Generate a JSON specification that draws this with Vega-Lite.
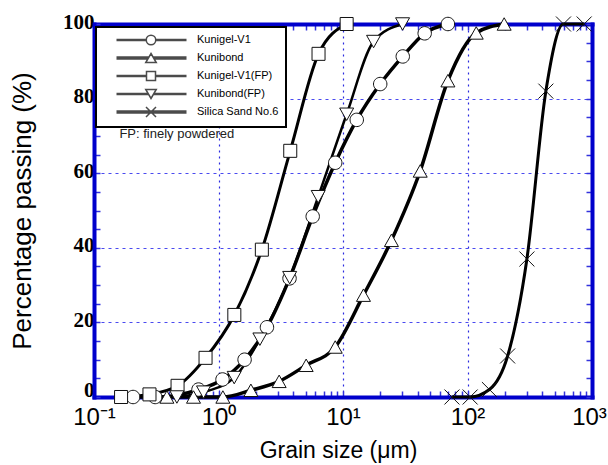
{
  "$schema": "https://vega.github.io/schema/vega-lite/v6.json",
  "width": 498,
  "height": 373,
  "autosize": {"type": "none"},
  "padding": {"left": 94, "top": 24, "right": 16, "bottom": 68},
  "background": "white",
  "config": {"view": {"stroke": null}, "font": "Liberation Sans", "legend": {"strokeWidth": 2}},
  "datasets": {
    "gsd": [
      {"series": "Kunigel-V1", "grain": 0.206, "passing": 0},
      {"series": "Kunigel-V1", "grain": 0.31, "passing": 0},
      {"series": "Kunigel-V1", "grain": 0.691, "passing": 2},
      {"series": "Kunigel-V1", "grain": 1.077, "passing": 4.7},
      {"series": "Kunigel-V1", "grain": 1.62, "passing": 10},
      {"series": "Kunigel-V1", "grain": 2.45, "passing": 18.7},
      {"series": "Kunigel-V1", "grain": 3.72, "passing": 31.8},
      {"series": "Kunigel-V1", "grain": 5.71, "passing": 48.4},
      {"series": "Kunigel-V1", "grain": 8.66, "passing": 62.8},
      {"series": "Kunigel-V1", "grain": 12.9, "passing": 74.3},
      {"series": "Kunigel-V1", "grain": 19.9, "passing": 83.9},
      {"series": "Kunigel-V1", "grain": 30.2, "passing": 91.3},
      {"series": "Kunigel-V1", "grain": 45.3, "passing": 97.5},
      {"series": "Kunigel-V1", "grain": 69.6, "passing": 100},
      {"series": "Kunibond", "grain": 0.385, "passing": 0},
      {"series": "Kunibond", "grain": 0.63, "passing": 0},
      {"series": "Kunibond", "grain": 1.084, "passing": 0},
      {"series": "Kunibond", "grain": 1.82, "passing": 1.8},
      {"series": "Kunibond", "grain": 3.07, "passing": 4.2},
      {"series": "Kunibond", "grain": 5.06, "passing": 8.5},
      {"series": "Kunibond", "grain": 8.66, "passing": 13.4},
      {"series": "Kunibond", "grain": 14.6, "passing": 27.3},
      {"series": "Kunibond", "grain": 24.5, "passing": 42},
      {"series": "Kunibond", "grain": 41.7, "passing": 60.6},
      {"series": "Kunibond", "grain": 69.6, "passing": 84.8},
      {"series": "Kunibond", "grain": 117.5, "passing": 97.6},
      {"series": "Kunibond", "grain": 197, "passing": 100},
      {"series": "Kunigel-V1(FP)", "grain": 0.165, "passing": 0},
      {"series": "Kunigel-V1(FP)", "grain": 0.279, "passing": 0.7},
      {"series": "Kunigel-V1(FP)", "grain": 0.469, "passing": 3},
      {"series": "Kunigel-V1(FP)", "grain": 0.787, "passing": 10.5},
      {"series": "Kunigel-V1(FP)", "grain": 1.34, "passing": 22},
      {"series": "Kunigel-V1(FP)", "grain": 2.23, "passing": 39.5},
      {"series": "Kunigel-V1(FP)", "grain": 3.77, "passing": 66},
      {"series": "Kunigel-V1(FP)", "grain": 6.36, "passing": 92},
      {"series": "Kunigel-V1(FP)", "grain": 10.7, "passing": 100},
      {"series": "Kunibond(FP)", "grain": 0.463, "passing": 0},
      {"series": "Kunibond(FP)", "grain": 0.758, "passing": 1.3},
      {"series": "Kunibond(FP)", "grain": 1.337, "passing": 5.2},
      {"series": "Kunibond(FP)", "grain": 2.15, "passing": 15.5},
      {"series": "Kunibond(FP)", "grain": 3.73, "passing": 32},
      {"series": "Kunibond(FP)", "grain": 6.32, "passing": 53.7},
      {"series": "Kunibond(FP)", "grain": 10.7, "passing": 75.8},
      {"series": "Kunibond(FP)", "grain": 17.6, "passing": 95.3},
      {"series": "Kunibond(FP)", "grain": 30.1, "passing": 100},
      {"series": "Silica Sand No.6", "grain": 75, "passing": 0},
      {"series": "Silica Sand No.6", "grain": 105, "passing": 0},
      {"series": "Silica Sand No.6", "grain": 150, "passing": 2},
      {"series": "Silica Sand No.6", "grain": 210, "passing": 11},
      {"series": "Silica Sand No.6", "grain": 300, "passing": 37},
      {"series": "Silica Sand No.6", "grain": 426, "passing": 82},
      {"series": "Silica Sand No.6", "grain": 590, "passing": 100},
      {"series": "Silica Sand No.6", "grain": 865, "passing": 100}
    ]
  },
  "layer": [
    {
      "data": {"name": "gsd"},
      "transform": [{"filter": "datum.series === 'Kunigel-V1'"}],
      "mark": {"type": "line", "interpolate": "monotone", "color": "black", "strokeWidth": 3.5},
      "encoding": {
        "x": {
          "field": "grain", "type": "quantitative",
          "scale": {"type": "log", "domain": [0.1, 1000], "nice": false},
          "axis": {
            "orient": "bottom",
            "values": [0.1, 0.2, 0.3, 0.4, 0.5, 0.6, 0.7, 0.8, 0.9, 1, 2, 3, 4, 5, 6, 7, 8, 9, 10, 20, 30, 40, 50, 60, 70, 80, 90, 100, 200, 300, 400, 500, 600, 700, 800, 900, 1000],
            "labelExpr": "datum.value == 0.1 ? '10⁻¹' : datum.value == 1 ? '10⁰' : datum.value == 10 ? '10¹' : datum.value == 100 ? '10²' : datum.value == 1000 ? '10³' : ''",
            "labelFont": "Liberation Sans", "labelFontSize": 24, "labelColor": "black",
            "labelPadding": 14, "labelFlush": false, "labelOverlap": false, "labelBound": false,
            "labelOffset": {"condition": {"test": "datum.value == 1000", "value": -3}, "value": 0},
            "tickSize": -6, "tickColor": "#3333dd", "tickWidth": 1.5,
            "domainColor": "#0000cc", "domainWidth": 4, "domainCap": "square",
            "grid": true, "gridColor": "#2a2ae0", "gridDash": [2, 4], "gridWidth": 1.2,
            "gridOpacity": {"condition": {"test": "datum.value == 1 || datum.value == 10 || datum.value == 100", "value": 1}, "value": 0},
            "title": "Grain size (μm)", "titleFont": "Liberation Sans", "titleFontSize": 23,
            "titleFontWeight": "normal", "titleColor": "black",
            "titleX": 244, "titleY": 60, "titleBaseline": "alphabetic"
          }
        },
        "y": {
          "field": "passing", "type": "quantitative",
          "scale": {"domain": [0, 100], "nice": false, "zero": false},
          "axis": {
            "orient": "left",
            "values": [0, 5, 10, 15, 20, 25, 30, 35, 40, 45, 50, 55, 60, 65, 70, 75, 80, 85, 90, 95, 100],
            "labelExpr": "datum.value % 20 === 0 ? datum.label : ''",
            "labelFont": "Liberation Serif", "labelFontWeight": "bold", "labelFontSize": 21, "labelColor": "black",
            "labelPadding": 6, "labelOverlap": false,
            "labelOffset": {"condition": {"test": "datum.value === 0", "value": -7}, "value": -2},
            "tickSize": -6, "tickColor": "#3333dd", "tickWidth": 1.5,
            "domainColor": "#0000cc", "domainWidth": 4, "domainCap": "square",
            "grid": true, "gridColor": "#4a4af0", "gridDash": [3, 4], "gridWidth": 1.2,
            "gridOpacity": {"condition": {"test": "datum.value % 20 === 0 && datum.value > 0 && datum.value < 100", "value": 1}, "value": 0},
            "title": "Percentage passing (%)", "titleFont": "Liberation Sans", "titleFontSize": 26,
            "titleFontWeight": "normal", "titleColor": "black",
            "titleX": -72, "titleBaseline": "middle"
          }
        }
      }
    },
    {
      "data": {"name": "gsd"},
      "transform": [{"filter": "datum.series === 'Kunibond'"}],
      "mark": {"type": "line", "interpolate": "monotone", "color": "black", "strokeWidth": 3.5},
      "encoding": {
        "x": {"field": "grain", "type": "quantitative", "scale": {"type": "log", "domain": [0.1, 1000], "nice": false}, "axis": null},
        "y": {"field": "passing", "type": "quantitative", "scale": {"domain": [0, 100], "nice": false, "zero": false}, "axis": null}
      }
    },
    {
      "data": {"name": "gsd"},
      "transform": [{"filter": "datum.series === 'Kunigel-V1(FP)'"}],
      "mark": {"type": "line", "interpolate": "monotone", "color": "black", "strokeWidth": 3},
      "encoding": {
        "x": {"field": "grain", "type": "quantitative", "scale": {"type": "log", "domain": [0.1, 1000], "nice": false}, "axis": null},
        "y": {"field": "passing", "type": "quantitative", "scale": {"domain": [0, 100], "nice": false, "zero": false}, "axis": null}
      }
    },
    {
      "data": {"name": "gsd"},
      "transform": [{"filter": "datum.series === 'Kunibond(FP)'"}],
      "mark": {"type": "line", "interpolate": "monotone", "color": "black", "strokeWidth": 2.5},
      "encoding": {
        "x": {"field": "grain", "type": "quantitative", "scale": {"type": "log", "domain": [0.1, 1000], "nice": false}, "axis": null},
        "y": {"field": "passing", "type": "quantitative", "scale": {"domain": [0, 100], "nice": false, "zero": false}, "axis": null}
      }
    },
    {
      "data": {"name": "gsd"},
      "transform": [{"filter": "datum.series === 'Silica Sand No.6'"}],
      "mark": {"type": "line", "interpolate": "monotone", "color": "black", "strokeWidth": 3},
      "encoding": {
        "x": {"field": "grain", "type": "quantitative", "scale": {"type": "log", "domain": [0.1, 1000], "nice": false}, "axis": null},
        "y": {"field": "passing", "type": "quantitative", "scale": {"domain": [0, 100], "nice": false, "zero": false}, "axis": null}
      }
    },
    {
      "data": {"name": "gsd"},
      "mark": {"type": "point", "filled": true, "fill": "white", "stroke": "#111111", "strokeWidth": 1, "size": 196, "opacity": 1},
      "encoding": {
        "x": {
          "field": "grain", "type": "quantitative",
          "scale": {"type": "log", "domain": [0.1, 1000], "nice": false},
          "axis": {
            "orient": "top",
            "values": [0.1, 0.2, 0.3, 0.4, 0.5, 0.6, 0.7, 0.8, 0.9, 1, 2, 3, 4, 5, 6, 7, 8, 9, 10, 20, 30, 40, 50, 60, 70, 80, 90, 100, 200, 300, 400, 500, 600, 700, 800, 900, 1000],
            "labels": false, "title": null, "grid": false,
            "tickSize": -6, "tickColor": "#3333dd", "tickWidth": 1.5,
            "domainColor": "#0000cc", "domainWidth": 4, "domainCap": "square"
          }
        },
        "y": {
          "field": "passing", "type": "quantitative",
          "scale": {"domain": [0, 100], "nice": false, "zero": false},
          "axis": {
            "orient": "right",
            "values": [0, 5, 10, 15, 20, 25, 30, 35, 40, 45, 50, 55, 60, 65, 70, 75, 80, 85, 90, 95, 100],
            "labels": false, "title": null, "grid": false,
            "tickSize": -6, "tickColor": "#3333dd", "tickWidth": 1.5,
            "domainColor": "#0000cc", "domainWidth": 4, "domainCap": "square"
          }
        },
        "shape": {
          "field": "series", "type": "nominal",
          "scale": {
            "domain": ["Kunigel-V1", "Kunibond", "Kunigel-V1(FP)", "Kunibond(FP)", "Silica Sand No.6"],
            "range": [
              "M0.96,0A0.96,0.96,0,1,1,-0.96,0A0.96,0.96,0,1,1,0.96,0Z",
              "M0,-0.89L1,0.89L-1,0.89Z",
              "M-0.93,-0.93H0.93V0.93H-0.93Z",
              "M0,0.89L1,-0.89L-1,-0.89Z",
              "M-1.07,-1.07L1.07,1.07M-1.07,1.07L1.07,-1.07"
            ]
          },
          "legend": null
        }
      }
    },
    {
      "data": {"values": []},
      "mark": {"type": "point", "filled": true, "fill": "white", "stroke": "black", "strokeWidth": 1, "size": 121},
      "encoding": {
        "shape": {
          "field": "series", "type": "nominal",
          "scale": {
            "domain": ["Kunigel-V1", "Kunibond", "Kunigel-V1(FP)", "Kunibond(FP)", "Silica Sand No.6"],
            "range": [
              "M-6.9,-0.09H-0.95M-6.9,0.09H-0.95M0.95,-0.09H7.1M0.95,0.09H7.1M0.95,0A0.95,0.95,0,1,1,-0.95,0A0.95,0.95,0,1,1,0.95,0Z",
              "M-6.9,-0.18H-0.42M-6.9,0H-0.52M-6.9,0.18H-0.63M0.42,-0.18H7.1M0.52,0H7.1M0.63,0.18H7.1M0,-0.9L1.05,0.9L-1.05,0.9Z",
              "M-6.9,-0.09H-0.9M-6.9,0.09H-0.9M0.9,-0.09H7.1M0.9,0.09H7.1M-0.9,-0.9H0.9V0.9H-0.9Z",
              "M-6.9,-0.09H-0.58M-6.9,0.09H-0.47M0.58,-0.09H7.1M0.47,0.09H7.1M0,0.9L1.05,-0.9L-1.05,-0.9Z",
              "M-6.9,-0.18H7.1M-6.9,0H7.1M-6.9,0.18H7.1M-1,-1L1,1M-1,1L1,-1"
            ]
          },
          "legend": {
            "orient": "none", "legendX": 2, "legendY": 3, "title": null,
            "padding": 7, "strokeColor": "black", "fillColor": "white",
            "symbolOffset": 42, "labelOffset": 40, "labelFontSize": 11
          }
        }
      }
    },
    {
      "data": {"values": [{"grain": 0.16, "passing": 69.4, "note": "FP: finely powdered"}]},
      "mark": {"type": "text", "align": "left", "baseline": "alphabetic", "font": "Liberation Sans", "fontSize": 13, "color": "#222222"},
      "encoding": {
        "x": {"field": "grain", "type": "quantitative", "scale": {"type": "log", "domain": [0.1, 1000], "nice": false}, "axis": null},
        "y": {"field": "passing", "type": "quantitative", "scale": {"domain": [0, 100], "nice": false, "zero": false}, "axis": null},
        "text": {"field": "note"}
      }
    }
  ],
  "resolve": {"axis": {"x": "independent", "y": "independent"}, "scale": {"shape": "independent"}}
}
